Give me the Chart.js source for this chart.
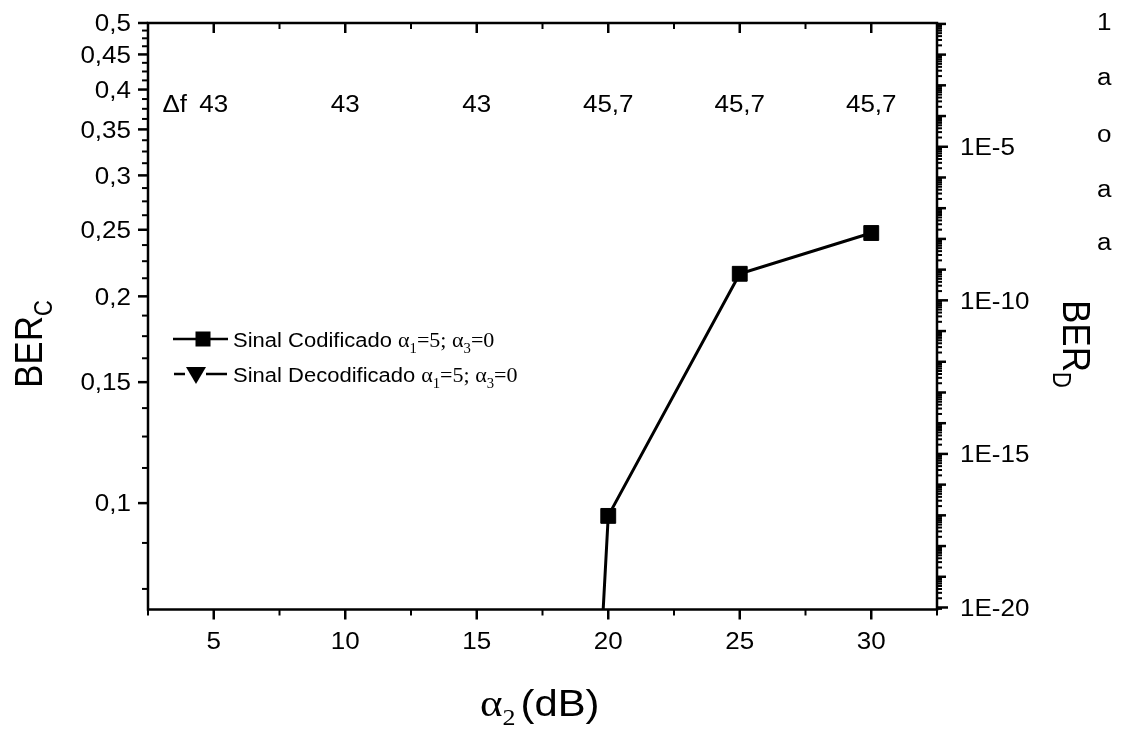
<!DOCTYPE html>
<html><head><meta charset="utf-8">
<script src="https://cdn.jsdelivr.net/npm/chart.js@4/dist/chart.umd.min.js"></script>
<style>html,body{margin:0;padding:0;background:#fff}canvas{display:block}</style>
</head><body>
<canvas id="c" width="1121" height="731"></canvas>
<script>
// ---- data ----
const alpha2 = [15, 20, 25, 30];
const berCodificado = [2.8e-5, 0.0958, 0.2157, 0.2473];
const alpha2Decod = [];          // Decodificado series lies below 1E-20: nothing visible
const berDecodificado = [];
const deltaFPositions = [5, 10, 15, 20, 25, 30];
const deltaFLabels = ['43', '43', '43', '45,7', '45,7', '45,7'];
const xTicks = [5, 10, 15, 20, 25, 30];
const xTickLabels = ['5', '10', '15', '20', '25', '30'];
const xMinorTicks = [2.5, 7.5, 12.5, 17.5, 22.5, 27.5, 32.5];
const yTicks = [0.1, 0.15, 0.2, 0.25, 0.3, 0.35, 0.4, 0.45, 0.5];
const yTickLabels = ['0,1', '0,15', '0,2', '0,25', '0,3', '0,35', '0,4', '0,45', '0,5'];
const y2Ticks = [1e-20, 1e-15, 1e-10, 1e-5];
const y2TickLabels = ['1E-20', '1E-15', '1E-10', '1E-5'];
const sideNotes = ['1', 'a', 'o', 'a', 'a'];
const legendNames = ['Sinal Codificado', 'Sinal Decodificado'];

// ---- drawing helpers ----
const SX = 1.13;
const SANS = '"Liberation Sans", Arial, sans-serif';
const SERIF = '"Liberation Serif", "Times New Roman", serif';
function txt(ctx, s, x, y, font, align, sx) {
  sx = sx || SX;
  ctx.save();
  ctx.font = font; ctx.textAlign = 'left'; ctx.textBaseline = 'alphabetic';
  const w = ctx.measureText(s).width * sx;
  const x0 = align === 'center' ? x - w / 2 : align === 'right' ? x - w : x;
  ctx.translate(x0, y); ctx.scale(sx, 1); ctx.fillStyle = '#000'; ctx.fillText(s, 0, 0);
  ctx.restore();
  return w;
}
// rotated text: dir -1 => reads bottom->top, +1 => top->bottom
function rtxt(ctx, parts, x, y, dir) {
  ctx.save();
  ctx.translate(x, y);
  ctx.rotate(dir * Math.PI / 2);
  ctx.scale(1, SX);
  ctx.fillStyle = '#000'; ctx.textBaseline = 'alphabetic'; ctx.textAlign = 'left';
  let cx = 0;
  parts.forEach(p => {
    ctx.font = p.font;
    ctx.fillText(p.s, cx, p.dy || 0);
    cx += ctx.measureText(p.s).width;
  });
  ctx.restore();
}

const framePlugin = {
  id: 'frame',
  afterDatasetsDraw(chart) {
    const ctx = chart.ctx, a = chart.chartArea;
    const xs = chart.scales.x, ys = chart.scales.y, y2 = chart.scales.y2;
    ctx.save();
    ctx.strokeStyle = '#000';
    ctx.lineCap = 'butt';
    function seg(x1, y1, x2, y2_, w) { ctx.lineWidth = w; ctx.beginPath(); ctx.moveTo(x1, y1); ctx.lineTo(x2, y2_); ctx.stroke(); }
    // x ticks: bottom outward, top inward
    xTicks.forEach(v => { const p = xs.getPixelForValue(v); seg(p, a.bottom, p, a.bottom + 10, 2.5); seg(p, a.top, p, a.top + 10, 2.5); });
    xMinorTicks.forEach(v => { const p = xs.getPixelForValue(v); seg(p, a.bottom, p, a.bottom + 6, 2); seg(p, a.top, p, a.top + 6, 2); });
    // left y ticks, outward
    yTicks.forEach(v => { const p = ys.getPixelForValue(v); seg(a.left - 10, p, a.left, p, 2.5); });
    for (let k = 5; k <= 40; k++) {
      if (k % 4 === 0) continue;
      const v = k * 0.0125;
      if (v < ys.min || v > ys.max) continue;
      const p = ys.getPixelForValue(v); seg(a.left - 6, p, a.left, p, 2);
    }
    // right y ticks, outward
    for (let e = -21; e <= -1; e++) {
      for (let m = 1; m <= 9; m++) {
        const v = m * Math.pow(10, e);
        if (v < y2.min || v > y2.max) continue;
        const p = y2.getPixelForValue(v);
        let len = 5;
        if (m === 1) len = y2Ticks.some(t => Math.abs(Math.log10(t) - e) < 1e-6) ? 11 : 9;
        seg(a.right, p, a.right + len, p, m === 1 ? 2.5 : 2);
      }
    }
    // frame
    ctx.lineWidth = 2.5;
    ctx.strokeRect(a.left, a.top, a.right - a.left, a.bottom - a.top);
    ctx.restore();
  },
  afterDraw(chart) {
    const ctx = chart.ctx, a = chart.chartArea;
    const xs = chart.scales.x, ys = chart.scales.y, y2 = chart.scales.y2;
    const F = '23px ' + SANS;
    // tick labels
    xTicks.forEach((v, i) => txt(ctx, xTickLabels[i], xs.getPixelForValue(v), 649, F, 'center'));
    yTicks.forEach((v, i) => txt(ctx, yTickLabels[i], 131, ys.getPixelForValue(v) + 8.2, F, 'right'));
    y2Ticks.forEach((v, i) => txt(ctx, y2TickLabels[i], 960, y2.getPixelForValue(v) + 8.2, F, 'left'));
    // delta f annotations
    txt(ctx, '\u0394f', 187, 112, F, 'right');
    deltaFPositions.forEach((v, i) => txt(ctx, deltaFLabels[i], xs.getPixelForValue(v), 112, F, 'center'));
    // side notes
    const sideBase = [30, 85, 142, 197, 250];
    sideNotes.forEach((s, i) => txt(ctx, s, 1097, sideBase[i], F, 'left'));
    // x title: alpha_2 (dB)
    let x = 480;
    x += txt(ctx, '\u03b1', x, 716, '38px ' + SERIF, 'left');
    x += txt(ctx, '2', x, 725, '23px ' + SERIF, 'left');
    x += 5;
    txt(ctx, '(dB)', x, 716, '37px ' + SANS, 'left');
    // left title BER_C (reads bottom->top)
    rtxt(ctx, [{ s: 'BER', font: '35px ' + SANS }, { s: 'C', font: '22px ' + SANS, dy: 9 * 1 }], 42, 388, -1);
    // right title BER_D (reads top->bottom)
    rtxt(ctx, [{ s: 'BER', font: '35px ' + SANS }, { s: 'D', font: '22px ' + SANS, dy: 9 }], 1063, 300, 1);
    // legend
    const rows = [339, 374];
    const LF = '20px ' + SANS;
    const GF = '21px ' + SERIF, GS = '14px ' + SERIF;
    ctx.save();
    ctx.strokeStyle = '#000'; ctx.fillStyle = '#000'; ctx.lineWidth = 2.5;
    // row 1 symbol
    ctx.beginPath(); ctx.moveTo(173, rows[0]); ctx.lineTo(228, rows[0]); ctx.stroke();
    ctx.fillRect(203 - 7.5, rows[0] - 7.5, 15, 15);
    // row 2 symbol
    ctx.beginPath(); ctx.moveTo(174, rows[1]); ctx.lineTo(185, rows[1]); ctx.moveTo(206, rows[1]); ctx.lineTo(227, rows[1]); ctx.stroke();
    ctx.beginPath(); ctx.moveTo(186, rows[1] - 7); ctx.lineTo(206, rows[1] - 7); ctx.lineTo(196, rows[1] + 10); ctx.closePath(); ctx.fill();
    ctx.restore();
    legendNames.forEach((name, i) => {
      const b = rows[i] + 7.5;
      let lx = 233;
      lx += txt(ctx, name, lx, b, LF, 'left', 1.1);
      lx += 6;
      lx += txt(ctx, '\u03b1', lx, b, GF, 'left', 1.05);
      lx += txt(ctx, '1', lx, b + 6, GS, 'left', 1.05);
      lx += txt(ctx, '=5; ', lx, b, GF, 'left', 1.05);
      lx += txt(ctx, '\u03b1', lx, b, GF, 'left', 1.05);
      lx += txt(ctx, '3', lx, b + 6, GS, 'left', 1.05);
      txt(ctx, '=0', lx, b, GF, 'left', 1.05);
    });
  }
};

const hidden = { ticks: { display: false }, grid: { display: false }, border: { display: false } };
new Chart(document.getElementById('c'), {
  type: 'line',
  data: {
    datasets: [
      {
        label: legendNames[0],
        data: alpha2.map((v, i) => ({ x: v, y: berCodificado[i] })),
        xAxisID: 'x', yAxisID: 'y',
        borderColor: '#000', backgroundColor: '#000', borderWidth: 3,
        pointStyle: 'rect', pointRadius: 10.5, pointBorderWidth: 1, tension: 0
      },
      {
        label: legendNames[1],
        data: alpha2Decod.map((v, i) => ({ x: v, y: berDecodificado[i] })),
        xAxisID: 'x', yAxisID: 'y2',
        borderColor: '#000', backgroundColor: '#000', borderWidth: 3, borderDash: [8, 6],
        pointStyle: 'triangle', rotation: 180, pointRadius: 10, tension: 0
      }
    ]
  },
  options: {
    responsive: false, animation: false, devicePixelRatio: 1,
    layout: { padding: { top: 23, left: 0, right: 0, bottom: 0 } },
    plugins: { legend: { display: false }, tooltip: { enabled: false } },
    scales: {
      x: Object.assign({ type: 'linear', position: 'bottom', min: 2.5, max: 32.5, afterFit: s => { s.height = 121.5; } }, hidden),
      y: Object.assign({ type: 'logarithmic', position: 'left', min: 0.07, max: 0.5, afterFit: s => { s.width = 148; } }, hidden),
      y2: Object.assign({ type: 'logarithmic', position: 'right', min: 8.6e-21, max: 0.107, afterFit: s => { s.width = 184; } }, hidden)
    }
  },
  plugins: [framePlugin]
});
</script>
</body></html>
